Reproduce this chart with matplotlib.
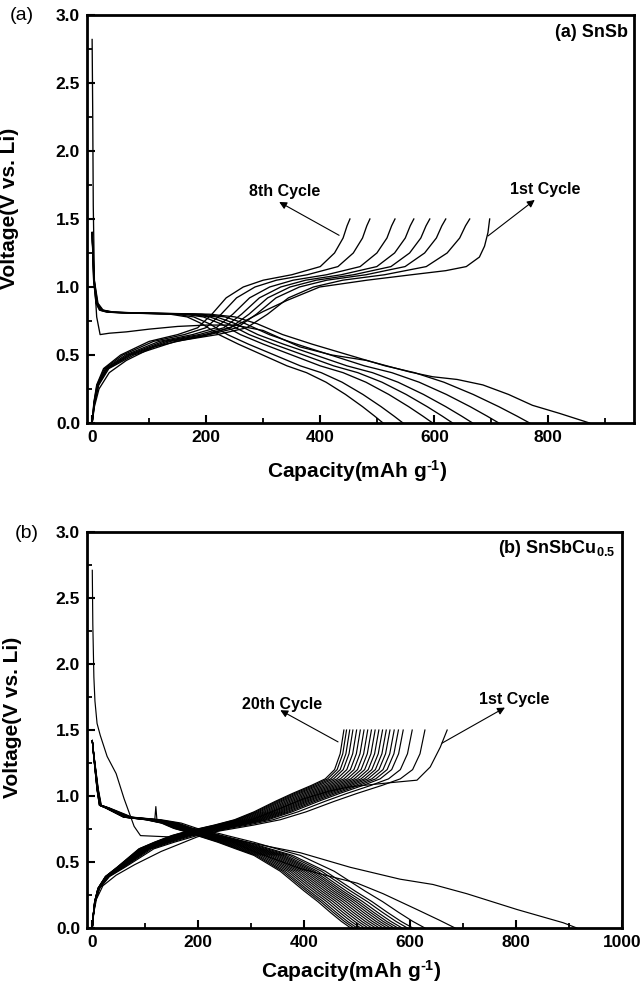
import matplotlib
matplotlib.use("Agg")
import matplotlib.pyplot as plt
from matplotlib.ticker import MultipleLocator

# ---- panel (a) SnSb : capacities in mAh/g, voltages in V ----
A_D1_CAP = [0, 1, 2, 4, 8, 14, 30, 60, 100, 150, 200, 250, 300, 364, 420, 481,
            557, 597, 640, 685, 730, 772, 820, 872]
A_D1_V = [2.82, 2.3, 1.6, 1.05, 0.78, 0.65, 0.66, 0.67, 0.69, 0.71, 0.72, 0.72,
          0.68, 0.56, 0.50, 0.46, 0.375, 0.34, 0.32, 0.28, 0.21, 0.13, 0.07, 0.0]
A_C1_CAP = [0, 4, 12, 30, 60, 108, 160, 196, 254, 300, 341, 399, 482, 560, 620,
            656, 679, 688, 694, 697]
A_C1_V = [0.0, 0.12, 0.25, 0.37, 0.46, 0.56, 0.61, 0.64, 0.72, 0.82, 0.90, 1.0,
          1.05, 1.09, 1.12, 1.15, 1.22, 1.30, 1.40, 1.5]
# shape of cycles 2-8 (read on a mid cycle), stretched to each cycle's end capacity
A_D_TPL_CAP = [0, 3, 8, 15, 30, 60, 110, 160, 195, 225, 260, 300, 350, 400, 440,
               480, 520, 555, 580, 597]
A_D_TPL_V = [1.40, 1.05, 0.88, 0.83, 0.815, 0.81, 0.805, 0.80, 0.78, 0.73, 0.65,
             0.58, 0.50, 0.42, 0.37, 0.30, 0.21, 0.12, 0.05, 0.0]
A_C_TPL_CAP = [0, 3, 8, 20, 50, 100, 150, 185, 210, 235, 265, 300, 350, 400, 425,
               440, 447, 452]
A_C_TPL_V = [0.0, 0.15, 0.28, 0.40, 0.50, 0.60, 0.65, 0.70, 0.80, 0.92, 1.00,
             1.05, 1.09, 1.15, 1.25, 1.36, 1.45, 1.5]
A_D_END = [767, 713, 667, 632, 597, 545, 510]
A_C_END = [662, 620, 592, 564, 531, 487, 452]

# ---- panel (b) SnSbCu0.5 ----
B_D1_CAP = [0, 1, 3, 5, 9, 15, 28, 45, 60, 79, 91, 147, 198, 255, 305, 393, 487,
            581, 643, 707, 802, 889, 915]
B_D1_V = [2.71, 2.3, 1.9, 1.72, 1.55, 1.46, 1.30, 1.17, 0.98, 0.77, 0.70, 0.69,
          0.71, 0.68, 0.64, 0.57, 0.46, 0.37, 0.33, 0.26, 0.14, 0.04, 0.0]
B_D2_CAP = [0, 3, 10, 15, 28, 66, 130, 198, 255, 305, 393, 450, 500, 549, 613,
            655, 685]
B_D2_V = [1.42, 1.30, 1.05, 0.93, 0.91, 0.84, 0.81, 0.74, 0.67, 0.58, 0.45, 0.39,
          0.34, 0.26, 0.14, 0.06, 0.0]
B_C1_CAP = [0, 3, 8, 20, 45, 80, 130, 198, 260, 320, 400, 450, 487, 560, 613, 638,
            657, 670]
B_C1_V = [0.0, 0.12, 0.22, 0.32, 0.40, 0.48, 0.58, 0.69, 0.76, 0.85, 0.98, 1.04,
          1.07, 1.10, 1.12, 1.22, 1.37, 1.5]
B_D_TPL_CAP = [0, 3, 10, 15, 28, 66, 114, 147, 173, 198, 223, 267, 305, 344, 372,
               400, 451, 480, 506, 530, 550]
B_D_TPL_V = [1.42, 1.30, 1.05, 0.93, 0.91, 0.84, 0.82, 0.795, 0.755, 0.73, 0.70,
             0.65, 0.60, 0.55, 0.49, 0.43, 0.28, 0.20, 0.12, 0.05, 0.0]
B_C_TPL_CAP = [0, 2, 5, 12, 28, 53, 100, 133, 170, 200, 225, 262, 305, 347, 393,
               430, 470, 500, 520, 532, 540]
B_C_TPL_V = [0.0, 0.10, 0.20, 0.30, 0.39, 0.46, 0.60, 0.65, 0.70, 0.73, 0.75,
             0.78, 0.82, 0.88, 0.96, 1.02, 1.08, 1.13, 1.20, 1.32, 1.5]
B_D_END = [628, 605, 595, 585, 577, 570, 563, 556, 549, 542, 535, 528, 521, 514,
           507, 500, 494, 488]  # cycles 3-20
B_C_END = [628, 604, 587, 578, 570, 562, 555, 548, 541, 534, 527, 520, 513, 506,
           499, 492, 486, 480, 475]  # cycles 2-20
B_SPIKE_CAP = [118, 120, 122]
B_SPIKE_V = [0.82, 0.92, 0.82]

XLABEL = r"Capacity(mAh g$^{\text{-}1}$)"
YLABEL = "Voltage(V vs. Li)"


def configure():
    plt.rcParams.update({
        "font.family": ["Liberation Sans", "DejaVu Sans"],
        "font.weight": "bold",
        "mathtext.fontset": "custom",
        "mathtext.rm": "Liberation Sans:bold",
        "mathtext.bf": "Liberation Sans:bold",
        "mathtext.default": "bf",
        "axes.linewidth": 2.0,
    })


def stretch(cap, end):
    k = end / cap[-1]
    return [c * k for c in cap]


def style_axes(ax, xmax, xlim):
    ax.set_xlim(*xlim)
    ax.set_ylim(0, 3.0)
    ax.xaxis.set_minor_locator(MultipleLocator(100))
    ax.yaxis.set_minor_locator(MultipleLocator(0.25))
    ax.set_xticks(range(0, xmax + 1, 200))
    ax.set_yticks([0, 0.5, 1.0, 1.5, 2.0, 2.5, 3.0],
                  ["0.0", "0.5", "1.0", "1.5", "2.0", "2.5", "3.0"])
    ax.tick_params(which="both", direction="in", top=False, right=False,
                   labelsize=12.5, pad=5)
    ax.tick_params(which="major", length=6, width=1.5)
    ax.tick_params(which="minor", length=3.5, width=1.3)
    for lab in ax.get_xticklabels() + ax.get_yticklabels():
        lab.set_fontweight("bold")


def arrow(ax, text, tail, head, pos):
    ax.annotate("", xy=head, xytext=tail,
                arrowprops=dict(arrowstyle="-|>", color="black", lw=0.8,
                                mutation_scale=11, shrinkA=0, shrinkB=0))
    ax.text(pos[0], pos[1], text, fontsize=11.5, fontweight="bold",
            ha="center", va="center")


configure()
fig = plt.figure(figsize=(6.42, 9.92), dpi=100)

# ---------------- (a) ----------------
ax = fig.add_axes([0.1355, 0.5736, 0.852, 0.4113])
lw = 0.95
ax.plot(A_D1_CAP, A_D1_V, color="black", lw=lw)
ax.plot(A_C1_CAP, A_C1_V, color="black", lw=lw)
for end in A_D_END:
    ax.plot(stretch(A_D_TPL_CAP, end), A_D_TPL_V, color="black", lw=lw)
for end in A_C_END:
    ax.plot(stretch(A_C_TPL_CAP, end), A_C_TPL_V, color="black", lw=lw)
style_axes(ax, 800, (-9, 950))
ax.set_xlabel(XLABEL, fontsize=15, fontweight="bold")
ax.set_ylabel(YLABEL, fontsize=15, fontweight="bold")
ax.xaxis.set_label_coords(0.494, -0.086)
ax.yaxis.set_label_coords(-0.124, 0.527)
arrow(ax, "8th Cycle", (433, 1.38), (328, 1.625), (338, 1.70))
arrow(ax, "1st Cycle", (694, 1.375), (776, 1.64), (795, 1.72))
ax.text(0.989, 0.956, "(a) SnSb", transform=ax.transAxes, fontsize=13,
        fontweight="bold", ha="right", va="center")
fig.text(22 / 642, 1 - 15 / 992, "(a)", fontsize=14, fontweight="normal",
         ha="center", va="center")

# ---------------- (b) ----------------
ax = fig.add_axes([0.1355, 0.0645, 0.8333, 0.3992])
lw = 0.85
ax.plot(B_D1_CAP, B_D1_V, color="black", lw=lw)
ax.plot(B_D2_CAP, B_D2_V, color="black", lw=lw)
ax.plot(B_C1_CAP, B_C1_V, color="black", lw=lw)
for end in B_D_END:
    ax.plot(stretch(B_D_TPL_CAP, end), B_D_TPL_V, color="black", lw=lw)
for end in B_C_END:
    ax.plot(stretch(B_C_TPL_CAP, end), B_C_TPL_V, color="black", lw=lw)
ax.plot(B_SPIKE_CAP, B_SPIKE_V, color="black", lw=lw)
style_axes(ax, 1000, (-10, 1000))
ax.set_xlabel(XLABEL, fontsize=15, fontweight="bold")
ax.set_ylabel(YLABEL, fontsize=15, fontweight="bold")
ax.xaxis.set_label_coords(0.495, -0.076)
ax.yaxis.set_label_coords(-0.121, 0.533)
arrow(ax, "20th Cycle", (464, 1.41), (355, 1.65), (358, 1.69))
arrow(ax, "1st Cycle", (660, 1.40), (779, 1.67), (796, 1.73))
ax.text(0.987, 0.958, r"(b) SnSbCu$_{0.5}$", transform=ax.transAxes,
        fontsize=13, fontweight="bold", ha="right", va="center")
fig.text(27 / 642, 1 - 534 / 992, "(b)", fontsize=14, fontweight="normal",
         ha="center", va="center")

fig.savefig("out.png", dpi=100, facecolor="white")
